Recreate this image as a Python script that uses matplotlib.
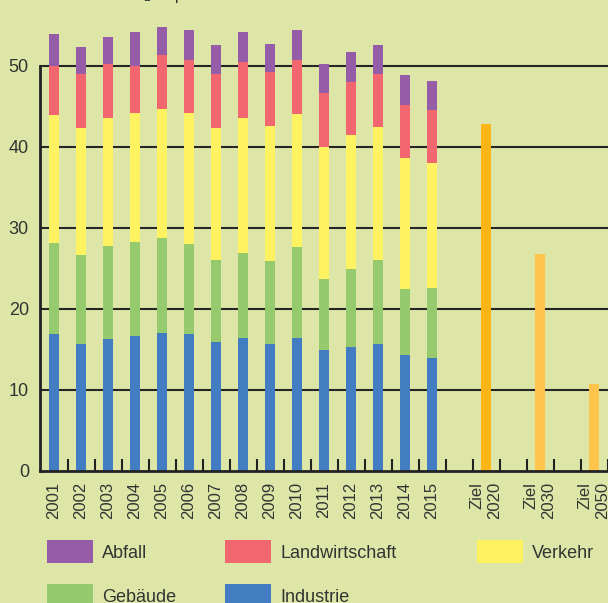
import matplotlib
matplotlib.use("Agg")
import matplotlib.pyplot as plt
from matplotlib.patches import Rectangle
import numpy as np

plt.rcParams['font.family'] = ['Liberation Sans', 'DejaVu Sans']

# Werte in Mio. t CO2-Aequivalente
years     = ["2001", "2002", "2003", "2004", "2005", "2006", "2007", "2008",
             "2009", "2010", "2011", "2012", "2013", "2014", "2015"]
industrie = [16.9, 15.6, 16.3, 16.6, 17.0, 16.9, 15.9, 16.4, 15.6, 16.4, 14.9, 15.3, 15.7, 14.3, 13.9]
gebaeude  = [11.2, 11.0, 11.5, 11.6, 11.7, 11.1, 10.1, 10.5, 10.3, 11.2, 8.8, 9.6, 10.3, 8.1, 8.7]
verkehr   = [15.8, 15.7, 15.8, 16.0, 16.0, 16.2, 16.3, 16.7, 16.6, 16.4, 16.3, 16.5, 16.4, 16.2, 15.4]
landwirt  = [6.1, 6.7, 6.6, 5.8, 6.6, 6.5, 6.7, 6.9, 6.7, 6.7, 6.6, 6.6, 6.6, 6.5, 6.5]
abfall    = [3.9, 3.3, 3.3, 4.2, 3.5, 3.7, 3.5, 3.7, 3.5, 3.7, 3.6, 3.7, 3.5, 3.8, 3.6]

ziel_labels = ["Ziel\n2020", "Ziel\n2030", "Ziel\n2050"]
ziel_values = [42.8, 26.7, 10.7]

series_names  = ["Industrie", "Gebäude", "Verkehr", "Landwirtschaft", "Abfall"]
series_colors = ["#427dc1", "#95cb6e", "#fff261", "#f26670", "#955da8"]
ziel_colors   = ["#fdb515", "#fec44b", "#fec44b"]

bg = "#dee6a7"
txt = "#333333"

fig = plt.figure(figsize=(6.08, 6.03), dpi=100, facecolor=bg)
W, H = 608.0, 603.0
# axes extends past the right edge (chart is cut off like the original)
ax = fig.add_axes([40 / W, (H - 470.7) / H, 594.5 / W, 405 / H])
ax.set_facecolor(bg)

x_years = np.arange(len(years))
x_ziel = np.array([16, 18, 20])
bw = 0.37

data = [industrie, gebaeude, verkehr, landwirt, abfall]
bottom = np.zeros(len(years))
for vals, col in zip(data, series_colors):
    ax.bar(x_years, vals, bw, bottom=bottom, color=col, zorder=3, clip_on=False)
    bottom += np.array(vals)

for xz, v, c in zip(x_ziel, ziel_values, ziel_colors):
    ax.bar(xz, v, bw, color=c, zorder=3, clip_on=False)

ax.set_xlim(-0.52, 21.5)
ax.set_ylim(0, 50)

# horizontal grid lines
ax.hlines([10, 20, 30, 40, 50], -0.52, 21.5, colors="#262626", linewidth=1.5,
          zorder=1, clip_on=False)

for s in ["top", "right"]:
    ax.spines[s].set_visible(False)
for s in ["left", "bottom"]:
    ax.spines[s].set_color("#222222")
    ax.spines[s].set_linewidth(2)
    ax.spines[s].set_zorder(4)

ax.set_yticks([0, 10, 20, 30, 40, 50])
ax.tick_params(axis="y", length=0, pad=8, labelsize=13, labelcolor=txt)

ax.set_xticks(list(x_years) + list(x_ziel))
ax.set_xticklabels(years + ziel_labels, rotation=90, fontsize=12, color=txt,
                   va="top", ha="center", multialignment="right")
ax.tick_params(axis="x", length=0, pad=8)
ax.set_xticks(np.arange(0.5, 21.5, 1), minor=True)
ax.tick_params(axis="x", which="minor", direction="in", length=9, width=1.5,
               color="#222222")

# top line (cut off in the original)
fig.text(68 / W, 1 + 1 / H, "Mio. t CO₂-Äquivalente", fontsize=13, color=txt,
         ha="left", va="baseline")

# legend, drawn by hand
leg_names = ["Abfall", "Landwirtschaft", "Verkehr", "Gebäude", "Industrie"]
leg_colors = ["#955da8", "#f26670", "#fff261", "#95cb6e", "#427dc1"]
leg_x = [47, 225, 477, 47, 225]
leg_y = [558, 558, 558, 602, 602]
for name, col, lx, ly in zip(leg_names, leg_colors, leg_x, leg_y):
    fig.add_artist(Rectangle((lx / W, (H - ly - 5) / H), 46 / W, 23 / H,
                             transform=fig.transFigure, color=col, lw=0))
    fig.text((lx + 55) / W, (H - ly) / H, name, fontsize=13, color=txt,
             ha="left", va="baseline")

plt.savefig("out.png", dpi=100, facecolor=bg)
